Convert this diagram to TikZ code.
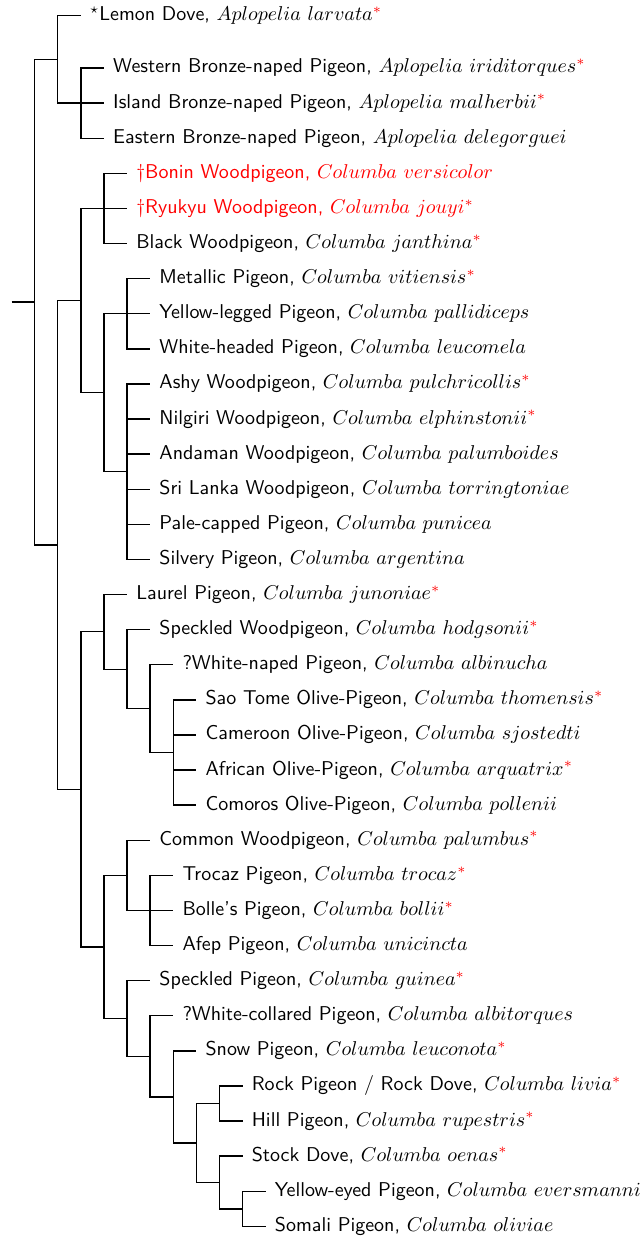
\documentclass[tikz,border=0pt]{standalone}
\usepackage{amsmath}
\usepackage{xcolor}
\usepackage{tikz}
\usetikzlibrary{positioning}

\newcommand{\redast}{\textcolor{red}{$^{*}$}}

\begin{document}
\begin{tikzpicture}[x=11.55pt,y=-17.55pt,line width=.7pt,
  taxon/.style={anchor=west,inner xsep=4.3pt,inner ysep=0pt,text height=7pt,
    text depth=2pt,font=\sffamily}]

  \useasboundingbox (-0.498,-1.937) rectangle (27.34,33.36);

  % Aplopelia
  \node[taxon] (larv) at (3,-1.5) {$^\star$Lemon Dove, $Aplopelia\ larvata$\redast};
  \node[taxon] (irid) at (4,0) {Western Bronze-naped Pigeon, $Aplopelia\ iriditorques$\redast};
  \node[taxon] (malh) at (4,1) {Island Bronze-naped Pigeon, $Aplopelia\ malherbii$\redast};
  \node[taxon] (dele) at (4,2) {Eastern Bronze-naped Pigeon, $Aplopelia\ delegorguei$};

  % Columba, woodpigeons of Asia and the Pacific
  \node[taxon,red] (vers) at (5,3) {\textdagger Bonin Woodpigeon, $Columba\ versicolor$};
  \node[taxon,red] (jouy) at (5,4) {\textdagger Ryukyu Woodpigeon, $Columba\ jouyi$\redast};
  \node[taxon] (janth) at (5,5) {Black Woodpigeon, $Columba\ janthina$\redast};
  \node[taxon] (viti) at (6,6) {Metallic Pigeon, $Columba\ vitiensis$\redast};
  \node[taxon] (palli) at (6,7) {Yellow-legged Pigeon, $Columba\ pallidiceps$};
  \node[taxon] (leucm) at (6,8) {White-headed Pigeon, $Columba\ leucomela$};
  \node[taxon] (pulc) at (6,9) {Ashy Woodpigeon, $Columba\ pulchricollis$\redast};
  \node[taxon] (elph) at (6,10) {Nilgiri Woodpigeon, $Columba\ elphinstonii$\redast};
  \node[taxon] (palb) at (6,11) {Andaman Woodpigeon, $Columba\ palumboides$};
  \node[taxon] (torr) at (6,12) {Sri Lanka Woodpigeon, $Columba\ torringtoniae$};
  \node[taxon] (puni) at (6,13) {Pale-capped Pigeon, $Columba\ punicea$};
  \node[taxon] (arge) at (6,14) {Silvery Pigeon, $Columba\ argentina$};

  % Columba, Africa and the Atlantic islands
  \node[taxon] (juno) at (5,15) {Laurel Pigeon, $Columba\ junoniae$\redast};
  \node[taxon] (hodg) at (6,16) {Speckled Woodpigeon, $Columba\ hodgsonii$\redast};
  \node[taxon] (albn) at (7,17) {?White-naped Pigeon, $Columba\ albinucha$};
  \node[taxon] (thom) at (8,18) {Sao Tome Olive-Pigeon, $Columba\ thomensis$\redast};
  \node[taxon] (sjos) at (8,19) {Cameroon Olive-Pigeon, $Columba\ sjostedti$};
  \node[taxon] (arqu) at (8,20) {African Olive-Pigeon, $Columba\ arquatrix$\redast};
  \node[taxon] (poll) at (8,21) {Comoros Olive-Pigeon, $Columba\ pollenii$};
  \node[taxon] (palu) at (6,22) {Common Woodpigeon, $Columba\ palumbus$\redast};
  \node[taxon] (troc) at (7,23) {Trocaz Pigeon, $Columba\ trocaz$\redast};
  \node[taxon] (boll) at (7,24) {Bolle's Pigeon, $Columba\ bollii$\redast};
  \node[taxon] (unic) at (7,25) {Afep Pigeon, $Columba\ unicincta$};
  \node[taxon] (guin) at (6,26) {Speckled Pigeon, $Columba\ guinea$\redast};
  \node[taxon] (albt) at (7,27) {?White-collared Pigeon, $Columba\ albitorques$};
  \node[taxon] (leuc) at (8,28) {Snow Pigeon, $Columba\ leuconota$\redast};
  \node[taxon] (livi) at (10,29) {Rock Pigeon / Rock Dove, $Columba\ livia$\redast};
  \node[taxon] (rupe) at (10,30) {Hill Pigeon, $Columba\ rupestris$\redast};
  \node[taxon] (oena) at (10,31) {Stock Dove, $Columba\ oenas$\redast};
  \node[taxon] (ever) at (11,32) {Yellow-eyed Pigeon, $Columba\ eversmanni$};
  \node[taxon] (oliv) at (11,33) {Somali Pigeon, $Columba\ oliviae$};

  % clades
  \coordinate (stub) at (0,6.67);
  \coordinate (root) at (1,6.67);
  \coordinate (cApl) at (2,-0.25);
  \coordinate (cBro) at (3,1);
  \coordinate (cCol) at (2,13.59);
  \coordinate (cA) at (3,6.625);
  \coordinate (cJan) at (4,4);
  \coordinate (cAsia) at (4,9.25);
  \coordinate (cVit) at (5,7);
  \coordinate (cPul) at (5,11.5);
  \coordinate (cB) at (3,20.55);
  \coordinate (cJun) at (4,16.06);
  \coordinate (cHod) at (5,17.13);
  \coordinate (cAlbn) at (6,18.25);
  \coordinate (cOlive) at (7,19.5);
  \coordinate (cPal) at (4,25.04);
  \coordinate (cPalu) at (5,23);
  \coordinate (cTro) at (6,24);
  \coordinate (cGui) at (5,27.08);
  \coordinate (cAlbt) at (6,28.16);
  \coordinate (cLeu) at (7,29.31);
  \coordinate (cLiv) at (8,30.63);
  \coordinate (cRock) at (9,29.5);
  \coordinate (cOen) at (9,31.75);
  \coordinate (cEve) at (10,32.5);

  \draw (stub) -- (root);
  \foreach \p/\c in {root/cApl, root/cCol, cApl/larv, cApl/cBro,
    cBro/irid, cBro/malh, cBro/dele,
    cCol/cA, cCol/cB, cA/cJan, cA/cAsia,
    cJan/vers, cJan/jouy, cJan/janth, cAsia/cVit, cAsia/cPul,
    cVit/viti, cVit/palli, cVit/leucm,
    cPul/pulc, cPul/elph, cPul/palb, cPul/torr, cPul/puni, cPul/arge,
    cB/cJun, cB/cPal, cJun/juno, cJun/cHod, cHod/hodg, cHod/cAlbn,
    cAlbn/albn, cAlbn/cOlive,
    cOlive/thom, cOlive/sjos, cOlive/arqu, cOlive/poll,
    cPal/cPalu, cPal/cGui, cPalu/palu, cPalu/cTro,
    cTro/troc, cTro/boll, cTro/unic,
    cGui/guin, cGui/cAlbt, cAlbt/albt, cAlbt/cLeu, cLeu/leuc, cLeu/cLiv,
    cLiv/cRock, cLiv/cOen, cRock/livi, cRock/rupe,
    cOen/oena, cOen/cEve, cEve/ever, cEve/oliv}
    \draw (\p) |- (\c);

\end{tikzpicture}
\end{document}
